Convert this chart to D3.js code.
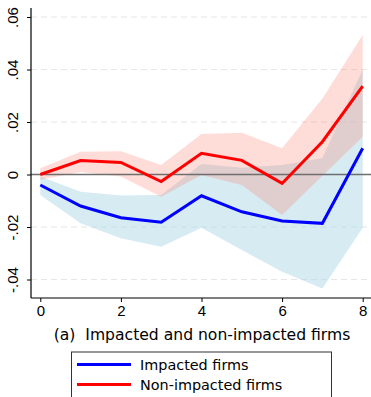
<!DOCTYPE html>
<html>
<head>
<meta charset="utf-8">
<script src="https://cdn.jsdelivr.net/npm/d3@7"></script>
<style>
  html, body { margin: 0; padding: 0; background: #fff; }
  svg { display: block; font-family: "DejaVu Sans", sans-serif; }
  .caption { white-space: pre; }
</style>
</head>
<body>
<svg id="chart" width="371" height="397"></svg>
<script>
// Event-time periods
const periods = [0, 1, 2, 3, 4, 5, 6, 7, 8];

// Impacted firms: point estimate and confidence band
const impacted      = [-0.0040, -0.0120, -0.0165, -0.0182, -0.0081, -0.0142, -0.0177, -0.0186, 0.0100];
const impactedLow   = [-0.0078, -0.0186, -0.0243, -0.0275, -0.0203, -0.0288, -0.0370, -0.0434, -0.0203];
const impactedHigh  = [-0.0008, -0.0066, -0.0080, -0.0078,  0.0040,  0.0026,  0.0036,  0.0062,  0.0400];

// Non-impacted firms: point estimate and confidence band
const nonImpacted     = [0.0000, 0.0053, 0.0046, -0.0027, 0.0081, 0.0054, -0.0034, 0.0125, 0.0337];
const nonImpactedLow  = [-0.0020, 0.0010, -0.0008, -0.0085, -0.0002, -0.0040, -0.0154, -0.0005, 0.0144];
const nonImpactedHigh = [0.0024, 0.0087, 0.0089, 0.0036, 0.0154, 0.0159, 0.0100, 0.0290, 0.0531];

const yTicks = [-0.04, -0.02, 0, 0.02, 0.04, 0.06];
const yTickLabels = ["-.04", "-.02", "0", ".02", ".04", ".06"];
const xTicks = [0, 2, 4, 6, 8];

const title = "(a)  Impacted and non-impacted firms";
const legendLabels = ["Impacted firms", "Non-impacted firms"];
const legendColors = ["#0000ff", "#ff0000"];

const svg = d3.select("#chart");

const plotLeft = 31, plotRight = 371, plotTop = 8, plotBottom = 298;

const x = d3.scaleLinear().domain([0, 8]).range([40.3, 362.7]);
const y = d3.scaleLinear().domain([0, 0.06]).range([174.5, 17]);

// Dashed grid lines at the non-zero y ticks
svg.append("g").selectAll("line")
  .data(yTicks.filter(d => d !== 0))
  .join("line")
  .attr("x1", plotLeft).attr("x2", plotRight)
  .attr("y1", d => y(d)).attr("y2", d => y(d))
  .attr("stroke", "#e6e6e6")
  .attr("stroke-width", 1.2)
  .attr("stroke-dasharray", "6,4");

// Confidence bands
const band = (lo, hi) => d3.area()
  .x((d, i) => x(periods[i]))
  .y0((d, i) => y(lo[i]))
  .y1((d, i) => y(hi[i]))(periods);

svg.append("path")
  .attr("d", band(impactedLow, impactedHigh))
  .attr("fill", "rgb(173,216,230)")
  .attr("fill-opacity", 0.5);

svg.append("path")
  .attr("d", band(nonImpactedLow, nonImpactedHigh))
  .attr("fill", "rgb(250,128,114)")
  .attr("fill-opacity", 0.28);

// Reference line at zero
svg.append("line")
  .attr("x1", plotLeft).attr("x2", plotRight)
  .attr("y1", y(0)).attr("y2", y(0))
  .attr("stroke", "#6e6e6e")
  .attr("stroke-width", 1.6);

// Estimate lines
const line = vals => d3.line()
  .x((d, i) => x(periods[i]))
  .y((d, i) => y(vals[i]))(periods);

[[impacted, legendColors[0]], [nonImpacted, legendColors[1]]].forEach(([vals, col]) => {
  svg.append("path")
    .attr("d", line(vals))
    .attr("fill", "none")
    .attr("stroke", col)
    .attr("stroke-width", 3);
});

// Y axis with rotated labels
const yAxis = d3.axisLeft(y)
  .tickValues(yTicks)
  .tickFormat((d, i) => yTickLabels[i])
  .tickSize(4);
const gy = svg.append("g").attr("transform", `translate(${plotLeft},0)`).call(yAxis);
gy.select(".domain").attr("d", `M0,${plotTop}V${plotBottom}`).attr("stroke", "#000").attr("stroke-width", 1.2);
gy.selectAll(".tick line").attr("stroke", "#000");
gy.selectAll(".tick text")
  .attr("font-size", 15)
  .attr("fill", "#000")
  .attr("transform", "rotate(-90)")
  .attr("x", 0)
  .attr("y", -13)
  .attr("dy", "0")
  .attr("text-anchor", "middle");

// X axis
const xAxis = d3.axisBottom(x)
  .tickValues(xTicks)
  .tickFormat(d3.format("d"))
  .tickSize(4)
  .tickPadding(3);
const gx = svg.append("g").attr("transform", `translate(0,${plotBottom})`).call(xAxis);
gx.select(".domain").attr("d", `M${plotLeft},0H${plotRight}`).attr("stroke", "#000").attr("stroke-width", 1.2);
gx.selectAll(".tick line").attr("stroke", "#000");
gx.selectAll(".tick text").attr("font-size", 15).attr("fill", "#000");

// Caption
svg.append("text")
  .attr("class", "caption")
  .attr("x", 202)
  .attr("y", 340)
  .attr("text-anchor", "middle")
  .attr("font-size", 15.6)
  .attr("fill", "#000")
  .text(title);

// Legend
const lg = svg.append("g");
lg.append("rect")
  .attr("x", 71.5).attr("y", 352)
  .attr("width", 260).attr("height", 60)
  .attr("fill", "#fff")
  .attr("stroke", "#333")
  .attr("stroke-width", 1);

legendLabels.forEach((lab, i) => {
  const yy = 364.5 + i * 20;
  lg.append("line")
    .attr("x1", 77).attr("x2", 131)
    .attr("y1", yy).attr("y2", yy)
    .attr("stroke", legendColors[i])
    .attr("stroke-width", 3);
  lg.append("text")
    .attr("x", 140).attr("y", yy + 5)
    .attr("font-size", 14.4)
    .attr("fill", "#000")
    .text(lab);
});
</script>
</body>
</html>
